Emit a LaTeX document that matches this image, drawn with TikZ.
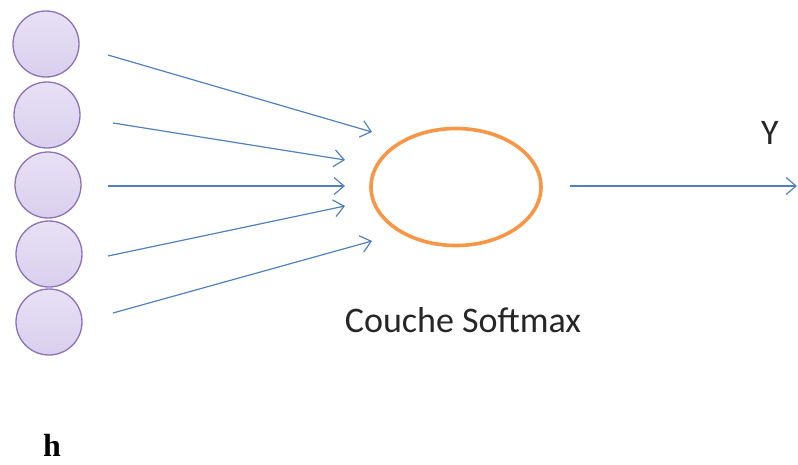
\documentclass[tikz,border=0pt]{standalone}
\usepackage{fontspec}
\setmainfont{Liberation Serif}
\newfontfamily\labelfont{Carlito}
\usetikzlibrary{arrows.meta,shapes.geometric}
\definecolor{unitfill}{HTML}{D9CFEE}
\definecolor{unittop}{HTML}{E8E1F5}
\definecolor{unitedge}{HTML}{8B72B5}
\definecolor{softedge}{HTML}{F79646}
\definecolor{linkblue}{HTML}{4F81BD}
\tikzset{
  unit/.style={circle, minimum size=66pt, inner sep=0pt, draw=unitedge, line width=1.3pt,
    top color=unittop, bottom color=unitfill},
  softmax/.style={ellipse, minimum width=170pt, minimum height=117pt, draw=softedge, line width=3.6pt},
  link/.style={draw=linkblue, line width=1.2pt, -{Straight Barb[length=10pt,width=17pt,line width=1.2pt]}},
  caption/.style={font=\labelfont\fontsize{36}{42}\selectfont, text=black!85},
}
\begin{document}
\begin{tikzpicture}[x=1pt,y=-1pt]
  \useasboundingbox (0,0) rectangle (798,464);
  % hidden layer units
  \node[unit] (h1) at (46,44) {};
  \node[unit] (h2) at (47,115) {};
  \node[unit] (h3) at (48,185) {};
  \node[unit] (h4) at (49,254) {};
  \node[unit] (h5) at (49,322) {};
  % softmax unit
  \node[softmax] (sm) at (456,187) {};
  % arrow end points
  \coordinate (s1) at (108,55);  \coordinate (e1) at (372,132);
  \coordinate (s2) at (113,123); \coordinate (e2) at (345,160);
  \coordinate (s3) at (108,186); \coordinate (e3) at (345,186);
  \coordinate (s4) at (108,256); \coordinate (e4) at (345,206);
  \coordinate (s5) at (113,313); \coordinate (e5) at (372,241);
  \coordinate (o1) at (570,186); \coordinate (o2) at (797,186);
  \foreach \i in {1,...,5} { \path[link] (s\i) -- (e\i); }
  \path[link] (o1) -- (o2);
  % labels
  \node[caption] (ylab) at (770,133) {Y};
  \node[caption] (smlab) at (463,320) {Couche Softmax};
  \node[font=\bfseries\fontsize{32}{38}\selectfont, anchor=base, inner sep=0pt] (hlab) at (52,456) {h};
\end{tikzpicture}
\end{document}
